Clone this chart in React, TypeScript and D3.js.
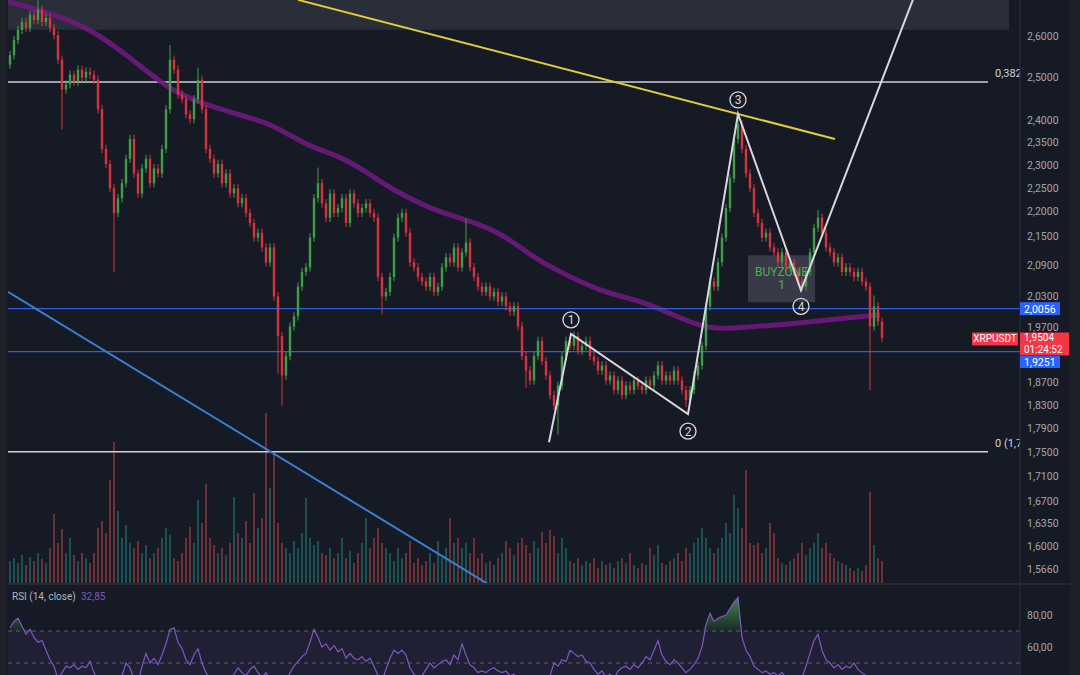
import React from 'react';
import * as d3 from 'd3';

// XRPUSDT candles (close per bar, open = previous close)
const FIRST_OPEN = 2.53;
const CLOSES = [
  2.553, 2.590, 2.615, 2.635, 2.620, 2.653, 2.640, 2.666, 2.635, 2.645,
  2.620, 2.602, 2.542, 2.471, 2.483, 2.506, 2.490, 2.518, 2.499, 2.513,
  2.506, 2.494, 2.425, 2.335, 2.302, 2.249, 2.197, 2.228, 2.260, 2.313,
  2.357, 2.281, 2.238, 2.292, 2.313, 2.260, 2.292, 2.281, 2.335, 2.425,
  2.542, 2.518, 2.459, 2.448, 2.413, 2.402, 2.448, 2.494, 2.425, 2.335,
  2.313, 2.281, 2.302, 2.260, 2.281, 2.238, 2.249, 2.217, 2.228, 2.197,
  2.176, 2.146, 2.156, 2.126, 2.096, 2.126, 2.029, 1.954, 1.882, 1.917,
  1.972, 1.991, 2.048, 2.077, 2.086, 2.146, 2.228, 2.260, 2.217, 2.187,
  2.238, 2.197, 2.207, 2.228, 2.176, 2.238, 2.217, 2.197, 2.207, 2.217,
  2.197, 2.187, 2.067, 2.029, 2.038, 2.067, 2.146, 2.187, 2.197, 2.156,
  2.096, 2.086, 2.067, 2.058, 2.048, 2.067, 2.038, 2.048, 2.086, 2.106,
  2.096, 2.126, 2.086, 2.116, 2.136, 2.086, 2.067, 2.048, 2.038, 2.048,
  2.029, 2.038, 2.019, 2.029, 2.010, 2.000, 2.010, 1.972, 1.917, 1.891,
  1.873, 1.917, 1.945, 1.908, 1.882, 1.847, 1.829, 1.864, 1.917, 1.945,
  1.936, 1.954, 1.927, 1.936, 1.945, 1.917, 1.908, 1.891, 1.900, 1.873,
  1.882, 1.856, 1.873, 1.847, 1.864, 1.856, 1.873, 1.864, 1.856, 1.873,
  1.864, 1.882, 1.900, 1.873, 1.882, 1.873, 1.891, 1.873, 1.856, 1.838,
  1.856, 1.882, 1.900, 1.936, 2.010, 2.058, 2.048, 2.096, 2.146, 2.207,
  2.270, 2.357, 2.390, 2.335, 2.281, 2.249, 2.197, 2.176, 2.146, 2.156,
  2.126, 2.116, 2.096, 2.116, 2.086, 2.096, 2.077, 2.058, 2.048, 2.077,
  2.116, 2.166, 2.187, 2.156, 2.126, 2.116, 2.096, 2.106, 2.077, 2.086,
  2.077, 2.067, 2.077, 2.058, 2.048, 1.972, 2.010, 1.981, 1.9504,
];

// long wicks: [bar index, price]
const WICK_HIGHS: [number, number][] = [
  [7, 2.69], [40, 2.578], [47, 2.523], [77, 2.294], [114, 2.185],
  [141, 1.963], [182, 2.413], [202, 2.203], [216, 2.031],
];
const WICK_LOWS: [number, number][] = [
  [13, 2.379], [26, 2.077], [67, 1.885], [68, 1.829], [93, 1.995],
  [129, 1.86], [137, 1.779], [169, 1.826], [215, 1.856],
];

const VOLUMES = [
  22, 25, 20, 28, 18, 26, 22, 30, 24, 20,
  35, 69, 40, 54, 30, 45, 28, 22, 30, 25,
  20, 30, 55, 62, 50, 103, 141, 72, 45, 58,
  40, 35, 42, 30, 38, 25, 30, 35, 45, 55,
  48, 25, 22, 30, 45, 56, 40, 83, 60, 99,
  45, 38, 30, 35, 28, 40, 86, 50, 45, 62,
  40, 90, 55, 65, 170, 95, 130, 60, 40, 35,
  30, 42, 35, 50, 85, 45, 38, 42, 30, 28,
  35, 25, 30, 45, 25, 32, 20, 30, 40, 65,
  35, 45, 55, 40, 35, 30, 22, 35, 25, 30,
  42, 20, 25, 18, 22, 30, 20, 42, 25, 35,
  65, 40, 45, 35, 40, 30, 45, 25, 30, 20,
  22, 18, 25, 30, 42, 35, 28, 40, 45, 38,
  30, 42, 35, 51, 40, 53, 47, 30, 45, 35,
  22, 20, 25, 18, 22, 20, 25, 15, 22, 18,
  20, 15, 22, 25, 20, 30, 18, 15, 20, 18,
  35, 28, 38, 20, 18, 22, 25, 30, 22, 35,
  30, 40, 45, 55, 45, 35, 30, 35, 45, 60,
  50, 88, 75, 55, 113, 40, 38, 40, 30, 35,
  60, 50, 25, 20, 18, 22, 25, 30, 40, 28,
  35, 40, 50, 35, 40, 30, 25, 22, 20, 18,
  15, 12, 15, 12, 18, 91, 38, 25, 22,
];

const RSI = [
  72, 76, 78, 73, 68, 71, 66, 63, 64, 58,
  52, 48, 40, 44, 48, 47, 49, 46, 48, 47,
  51, 44, 38, 35, 33, 34, 31, 36, 42, 50,
  47, 40, 37, 48, 56, 50, 53, 49, 55, 62,
  71, 72, 63, 59, 52, 49, 55, 59, 50, 44,
  40, 38, 41, 38, 40, 39, 43, 47, 44, 42,
  46, 48, 44, 41, 44, 40, 36, 33, 30, 38,
  44, 48, 51, 54, 56, 63, 71, 66, 60, 62,
  58, 61, 57, 59, 53, 56, 53, 52, 54, 51,
  53, 48, 42, 39, 46, 53, 58, 56, 58, 55,
  47, 43, 40, 42, 46, 50, 47, 49, 51, 52,
  49, 55, 52, 62, 55, 49, 47, 44, 45, 44,
  46, 47, 45, 44, 45, 42, 43, 39, 35, 33,
  36, 41, 38, 34, 32, 42, 50, 48, 52, 51,
  58, 56, 54, 55, 51, 50, 46, 43, 45, 41,
  43, 40, 45, 47, 48, 46, 49, 47, 50, 54,
  52, 58, 64, 55, 51, 49, 52, 50, 47, 44,
  46, 49, 53, 60, 74, 81, 76, 78, 79, 80,
  84, 88, 91, 66, 58, 54, 48, 46, 44, 45,
  43, 44, 42, 44, 41, 42, 40, 39, 41, 48,
  56, 64, 68, 58, 52, 50, 47, 49, 46, 48,
  47, 50, 46, 44, 42, 34, 38, 36, 32.85,
];

const MA_IDX = [-0.5, 10, 20, 30.75, 39.25, 47.5, 60, 65.75, 75, 81.75, 89.25, 95.75, 105.75, 114.25, 122.5, 130.75, 135, 147.5, 157.5, 167.5, 175, 184.25, 192.5, 200.75, 209.25, 217.5];
const MA_VAL = [2.686, 2.658, 2.62, 2.542, 2.474, 2.439, 2.405, 2.389, 2.339, 2.322, 2.284, 2.245, 2.203, 2.182, 2.157, 2.107, 2.087, 2.038, 2.022, 1.988, 1.965, 1.971, 1.975, 1.981, 1.988, 1.994];

const PRICE_TICKS = [2.6, 2.5, 2.4, 2.35, 2.3, 2.25, 2.2, 2.15, 2.09, 2.03, 1.97, 1.87, 1.83, 1.79, 1.75, 1.71, 1.67, 1.635, 1.6, 1.566];
const RSI_TICKS = [80, 60];

// drawings
const WAVE_IDX = [134.75, 140.25, 169.5, 182, 197.75, 229];
const WAVE_VAL = [1.766, 1.958, 1.814, 2.414, 2.041, 2.78];
const WAVE_LABELS = ['1', '2', '3', '4'];
const WAVE_LABEL_DY = [-14, 17, -14, 16];
const TREND_IDX = [72, 206.25];
const TREND_VAL = [2.691, 2.357];
const BLUE_TREND_IDX = [-0.5, 119.25];
const BLUE_TREND_VAL = [2.038, 1.544];
const FIB_LABELS = ['0,382', '0 (1,7'];
const FIB_PRICES = [2.4885, 1.75];
const LEVELS = [2.0056, 1.9251];
const BUY_ZONE_IDX = [184.5, 201.25];
const BUY_ZONE_VAL = [2.018, 2.11];
const TOP_ZONE_IDX = [-0.5, 249.75];
const TOP_ZONE_VAL = [2.617, 2.75];
const LAST_PRICE = 1.9504;

const fmt4 = (v: number) => d3.format('.4f')(v).replace('.', ',');
const fmt2 = (v: number) => d3.format('.2f')(v).replace('.', ',');

const BG = '#161a25';
const UP = '#3f9e48';
const DOWN = '#d8333f';
const AXIS_TXT = '#a3a6af';
const FONT = 'Roboto, "Noto Sans", sans-serif';

export default function App() {
  const x = d3.scaleLinear().domain([0, CLOSES.length - 1]).range([10, 882]);
  const y = d3.scaleLog().domain([1.6, 2.6]).range([546, 36]);
  const vy = d3.scaleLinear().domain([0, 180]).range([583, 403]);
  const ry = d3.scaleLinear().domain([60, 80]).range([647, 615]);

  const hi = new Map(WICK_HIGHS);
  const lo = new Map(WICK_LOWS);
  const candles = CLOSES.map((c, i) => {
    const o = i === 0 ? FIRST_OPEN : CLOSES[i - 1];
    const top = Math.max(o, c);
    const bot = Math.min(o, c);
    return {
      i, o, c,
      h: hi.get(i) ?? top * 1.004,
      l: lo.get(i) ?? bot * 0.996,
      up: c >= o,
    };
  });

  const maLine = d3.line<number>()
    .x((_, k) => x(MA_IDX[k]))
    .y((v) => y(v))
    .curve(d3.curveBasis)(MA_VAL) as string;

  const waveLine = d3.line<number>()
    .x((_, k) => x(WAVE_IDX[k]))
    .y((v) => y(v))(WAVE_VAL) as string;

  const rsiLine = d3.line<number>()
    .x((_, k) => x(k))
    .y((v) => ry(v))(RSI) as string;

  const rsiOver = d3.area<number>()
    .x((_, k) => x(k))
    .y0(ry(70))
    .y1((v) => ry(Math.max(v, 70)))(RSI) as string;

  const lastY = y(LAST_PRICE);

  return (
    <svg width={1080} height={675} style={{ position: 'absolute', left: 0, top: 0, background: BG, fontFamily: FONT }}>
      <defs>
        <clipPath id="pricePane"><rect x={8} y={0} width={1012} height={583} /></clipPath>
        <clipPath id="rsiPane"><rect x={8} y={585} width={1012} height={90} /></clipPath>
        <linearGradient id="obGrad" x1="0" y1="0" x2="0" y2="1">
          <stop offset="0%" stopColor="#4caf50" stopOpacity={0.75} />
          <stop offset="100%" stopColor="#4caf50" stopOpacity={0.1} />
        </linearGradient>
      </defs>
      <rect x={0} y={0} width={1080} height={675} fill={BG} />

      <g clipPath="url(#pricePane)">
        {/* top shaded zone */}
        <rect x={8} y={y(TOP_ZONE_VAL[1])} width={x(TOP_ZONE_IDX[1]) - 8}
          height={y(TOP_ZONE_VAL[0]) - y(TOP_ZONE_VAL[1])} fill="#2a2e39" />
        <line x1={8} x2={x(TOP_ZONE_IDX[1])} y1={y(TOP_ZONE_VAL[0])} y2={y(TOP_ZONE_VAL[0])} stroke="#26324d" />

        {/* volume */}
        {VOLUMES.map((v, i) => (
          <rect key={'v' + i} x={x(i) - 1} y={vy(v)} width={2} height={583 - vy(v)}
            fill={candles[i].up ? '#26a69a' : '#ef5350'} opacity={0.4} />
        ))}

        {/* fib lines */}
        {FIB_PRICES.map((p, k) => (
          <g key={'f' + k}>
            <line x1={8} x2={988} y1={y(p)} y2={y(p)} stroke="#cfd1d6" strokeWidth={1.5} />
            <text x={995} y={y(p) - 5} fill="#cfd1d6" fontSize={11}>{FIB_LABELS[k]}</text>
          </g>
        ))}

        {/* moving average */}
        <path d={maLine} fill="none" stroke="#6e1a7e" strokeWidth={5} opacity={0.9} />

        {/* horizontal levels */}
        {LEVELS.map((p, k) => (
          <line key={'l' + k} x1={8} x2={1020} y1={y(p)} y2={y(p)} stroke="#2f5fe0" strokeWidth={1.2} />
        ))}

        {/* buy zone box */}
        <rect x={x(BUY_ZONE_IDX[0])} y={y(BUY_ZONE_VAL[1])}
          width={x(BUY_ZONE_IDX[1]) - x(BUY_ZONE_IDX[0])}
          height={y(BUY_ZONE_VAL[0]) - y(BUY_ZONE_VAL[1])}
          fill="#787b86" opacity={0.35} />

        {/* candles */}
        {candles.map((d) => {
          const col = d.up ? UP : DOWN;
          const yt = y(Math.max(d.o, d.c));
          const yb = y(Math.min(d.o, d.c));
          return (
            <g key={'c' + d.i}>
              <line x1={x(d.i)} x2={x(d.i)} y1={y(d.h)} y2={y(d.l)} stroke={col} strokeWidth={1} />
              <rect x={x(d.i) - 1.2} y={yt} width={2.4} height={Math.max(1, yb - yt)} fill={col} />
            </g>
          );
        })}

        {/* buy zone text */}
        <text x={(x(BUY_ZONE_IDX[0]) + x(BUY_ZONE_IDX[1])) / 2} y={y(BUY_ZONE_VAL[1]) + 21}
          textAnchor="middle" fill="#4caf50" fontSize={12}>BUYZONE</text>
        <text x={(x(BUY_ZONE_IDX[0]) + x(BUY_ZONE_IDX[1])) / 2} y={y(BUY_ZONE_VAL[1]) + 34}
          textAnchor="middle" fill="#4caf50" fontSize={12}>1</text>

        {/* trend lines */}
        <line x1={x(TREND_IDX[0])} y1={y(TREND_VAL[0])} x2={x(TREND_IDX[1])} y2={y(TREND_VAL[1])}
          stroke="#e3cd3a" strokeWidth={2} />
        <line x1={x(BLUE_TREND_IDX[0])} y1={y(BLUE_TREND_VAL[0])} x2={x(BLUE_TREND_IDX[1])} y2={y(BLUE_TREND_VAL[1])}
          stroke="#3a7fcf" strokeWidth={2} />

        {/* wave */}
        <path d={waveLine} fill="none" stroke="#d6d8dd" strokeWidth={2} />
        {WAVE_LABELS.map((t, k) => {
          const cx = x(WAVE_IDX[k + 1]);
          const cy = y(WAVE_VAL[k + 1]) + WAVE_LABEL_DY[k];
          return (
            <g key={'w' + k}>
              <circle cx={cx} cy={cy} r={8} fill="none" stroke="#d6d8dd" strokeWidth={1.3} />
              <text x={cx} y={cy + 4.5} textAnchor="middle" fill="#d6d8dd" fontSize={12}>{t}</text>
            </g>
          );
        })}
      </g>

      {/* RSI pane */}
      <line x1={0} x2={1070} y1={584} y2={584} stroke="#2a2e39" strokeWidth={1.5} />
      <g clipPath="url(#rsiPane)">
        <rect x={8} y={ry(70)} width={1012} height={ry(30) - ry(70)} fill="#7e57c2" opacity={0.1} />
        {[70, 50].map((v) => (
          <line key={'rl' + v} x1={8} x2={1020} y1={ry(v)} y2={ry(v)} stroke="#787b86" strokeDasharray="4,4" opacity={0.7} />
        ))}
        <path d={rsiOver} fill="url(#obGrad)" />
        <path d={rsiLine} fill="none" stroke="#7e57c2" strokeWidth={1.2} />
      </g>
      <text x={12} y={600} fill="#b2b5be" fontSize={10}>RSI (14, close)</text>
      <text x={81} y={600} fill="#7e57c2" fontSize={10}>{fmt2(RSI[RSI.length - 1])}</text>

      {/* right axis */}
      <line x1={1020} x2={1020} y1={0} y2={675} stroke="#2a2e39" />
      {PRICE_TICKS.map((t) => (
        <text key={'pt' + t} x={1027} y={y(t) + 4} fill={AXIS_TXT} fontSize={10.5}>{fmt4(t)}</text>
      ))}
      {RSI_TICKS.map((t) => (
        <text key={'rt' + t} x={1027} y={ry(t) + 4} fill={AXIS_TXT} fontSize={10.5}>{fmt2(t)}</text>
      ))}

      {/* price tags */}
      <rect x={1020} y={y(LEVELS[0]) - 6.5} width={40} height={13} fill="#2962ff" />
      <text x={1024} y={y(LEVELS[0]) + 4} fill="#ffffff" fontSize={10.5}>{fmt4(LEVELS[0])}</text>

      <rect x={972} y={lastY - 5.5} width={46} height={13} fill="#f23645" />
      <text x={995} y={lastY + 4.5} fill="#ffffff" fontSize={10} textAnchor="middle">XRPUSDT</text>
      <rect x={1020} y={lastY - 5.5} width={49} height={23} fill="#f23645" />
      <text x={1024} y={lastY + 3.5} fill="#ffffff" fontSize={10}>{fmt4(LAST_PRICE)}</text>
      <text x={1024} y={lastY + 15} fill="#ffffff" fontSize={10}>01:24:52</text>

      <rect x={1020} y={356} width={40} height={12} fill="#2962ff" />
      <text x={1024} y={366} fill="#ffffff" fontSize={10.5}>{fmt4(LEVELS[1])}</text>

      {/* frame strips */}
      <rect x={0} y={0} width={7} height={675} fill="#1d2027" />
      <rect x={1070} y={0} width={10} height={675} fill="#1d2027" />
    </svg>
  );
}
